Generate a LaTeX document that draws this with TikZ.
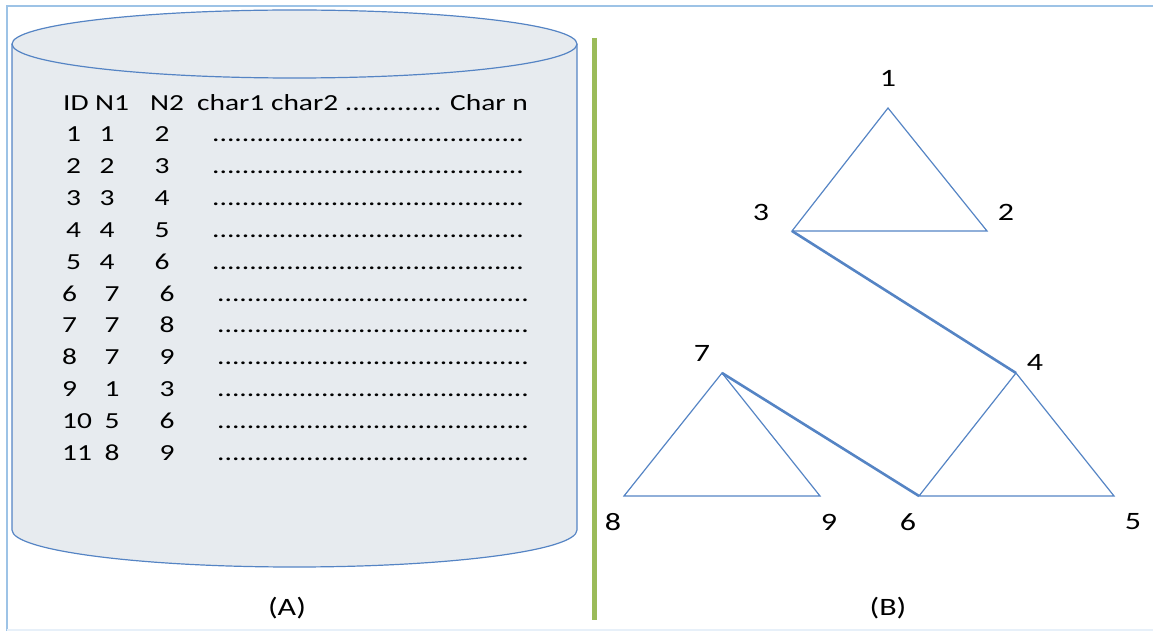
\documentclass[tikz,border=0pt]{standalone}
\usepackage{fontspec}
\setmainfont{Carlito}[FakeStretch=1.28]
\definecolor{edgeblue}{HTML}{5584C4}
\definecolor{dbfill}{HTML}{E7EBEF}
\definecolor{bargreen}{HTML}{9BBB59}
\definecolor{frameblue}{HTML}{9DC3E6}
\newcommand{\dotrun}{..........................................}
\begin{document}
\begin{tikzpicture}[
	x=1pt, y=-1pt,
	cell/.style={inner sep=0pt, anchor=base, font=\fontsize{23}{26}\selectfont},
	vlabel/.style={inner sep=0pt, font=\fontsize{25}{28}\selectfont},
	tri/.style={draw=edgeblue, line width=1.2pt, line join=miter},
	link/.style={draw=edgeblue, line width=2.6pt}
]
\useasboundingbox (0,0) rectangle (1153,631);
% outer frame
\draw[frameblue, line width=2pt] (1153,6.5) -- (6.5,6.5) -- (6.5,631);
\draw[frameblue!25, line width=1.5pt] (6.5,630) -- (1153,630);

% database cylinder
\filldraw[fill=dbfill, draw=edgeblue, line width=1.2pt]
	(12,44) -- (12,530) arc[start angle=180, end angle=0, x radius=282.5, y radius=37] -- (577,44);
\filldraw[fill=dbfill, draw=edgeblue, line width=1.2pt] (294.5,44) ellipse[x radius=282.5, y radius=34];

% table header
\node[cell, anchor=base west] (hid) at (63,111) {ID};
\node[cell, anchor=base west] (hna) at (95,111) {N1};
\node[cell, anchor=base west] (hnb) at (150,111) {N2};
\node[cell, anchor=base west] (hch) at (197,111) {char1 char2 ............. Char n};

% table rows
\foreach \id/\na/\nb/\r in {1/1/2/0, 2/2/3/1, 3/3/4/2, 4/4/5/3, 5/4/6/4} {
	\node[cell, anchor=base west] (id\id) at (66,142+31.8*\r) {\id};
	\node[cell] (na\id) at (107,142+31.8*\r) {\na};
	\node[cell] (nb\id) at (162,142+31.8*\r) {\nb};
	\node[cell, anchor=base west] (ch\id) at (212,142+31.8*\r) {\dotrun};
}
\foreach \id/\na/\nb/\r in {6/7/6/5, 7/7/8/6, 8/7/9/7, 9/1/3/8, 10/5/6/9, 11/8/9/10} {
	\node[cell, anchor=base west] (id\id) at (62,142+31.8*\r) {\id};
	\node[cell] (na\id) at (112,142+31.8*\r) {\na};
	\node[cell] (nb\id) at (167,142+31.8*\r) {\nb};
	\node[cell, anchor=base west] (ch\id) at (217,142+31.8*\r) {\dotrun};
}

% separator
\draw[bargreen, line width=5pt] (594,38) -- (594,620);

% tree vertices
\coordinate (v1) at (888,108);
\coordinate (v2) at (987,231);
\coordinate (v3) at (792,231);
\coordinate (v4) at (1016,373);
\coordinate (v5) at (1114,496);
\coordinate (v6) at (919,496);
\coordinate (v7) at (722,373);
\coordinate (v8) at (624,496);
\coordinate (v9) at (820,496);

\node[vlabel] (l1) at (888,78) {1};
\node[vlabel] (l2) at (1006,212) {2};
\node[vlabel] (l3) at (761,212) {3};
\node[vlabel] (l4) at (1035,362) {4};
\node[vlabel] (l5) at (1133,522) {5};
\node[vlabel] (l6) at (908,522) {6};
\node[vlabel] (l7) at (702,353) {7};
\node[vlabel] (l8) at (613,522) {8};
\node[vlabel] (l9) at (829,522) {9};

\draw[tri] (v1) -- (v2) -- (v3) -- cycle;
\draw[tri] (v4) -- (v5) -- (v6) -- cycle;
\draw[tri] (v7) -- (v9) -- (v8) -- cycle;
\draw[link] (v3) -- (v4);
\draw[link] (v7) -- (v6);

% captions
\node[vlabel] (capA) at (287,608) {(A)};
\node[vlabel] (capB) at (888,608) {(B)};
\end{tikzpicture}
\end{document}
